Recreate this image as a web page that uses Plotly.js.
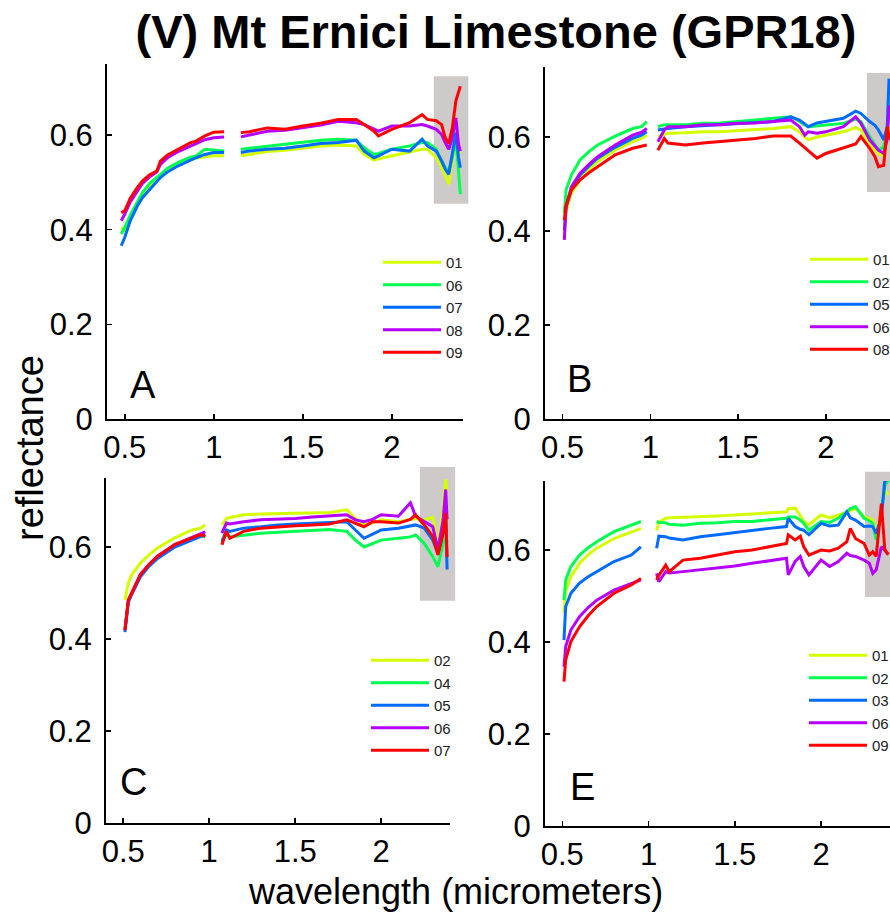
<!DOCTYPE html>
<html>
<head>
<meta charset="utf-8">
<script src="https://cdn.plot.ly/plotly-3.0.1.min.js"></script>
<style>
html,body{margin:0;padding:0;overflow:hidden;background:#fff;}
#chart{width:900px;height:912px;}
</style>
</head>
<body>
<div id="chart"></div>
<script>
// ---------- DATA ----------
// null marks the detector gap near 1 micrometer
const WL_A = [0.48,0.5,0.53,0.57,0.6,0.64,0.68,0.7,0.74,0.8,0.87,0.9,0.95,1.0,1.058,1.1,1.152,1.2,1.3,1.4,1.5,1.6,1.7,1.8,1.845,1.9,1.925,2.0,2.1,2.17,2.2,2.25,2.28,2.3,2.32,2.34,2.36,2.375,2.385];
const A_01 = [0.405,0.398,0.425,0.455,0.472,0.49,0.505,0.514,0.526,0.538,0.548,0.551,0.554,0.556,0.556,null,0.556,0.559,0.565,0.568,0.572,0.577,0.579,0.577,0.559,0.547,0.55,0.556,0.563,0.57,0.57,0.552,0.531,0.514,0.496,0.545,0.58,0.57,0.56];
const A_06 = [0.391,0.405,0.43,0.458,0.479,0.498,0.512,0.517,0.53,0.542,0.553,0.556,0.57,0.568,0.566,null,0.57,0.572,0.577,0.58,0.584,0.589,0.591,0.589,0.573,0.559,0.561,0.57,0.577,0.584,0.584,0.57,0.545,0.531,0.524,0.552,0.594,0.52,0.475];
const A_07 = [0.366,0.384,0.418,0.45,0.468,0.486,0.502,0.51,0.522,0.535,0.548,0.552,0.559,0.563,0.563,null,0.563,0.566,0.57,0.572,0.577,0.582,0.584,0.589,0.566,0.552,0.556,0.57,0.566,0.591,0.577,0.566,0.545,0.528,0.517,0.566,0.605,0.552,0.531];
const A_08 = [0.419,0.433,0.458,0.482,0.498,0.512,0.522,0.538,0.552,0.565,0.578,0.582,0.59,0.594,0.596,null,0.596,0.6,0.608,0.61,0.615,0.621,0.629,0.626,0.622,0.612,0.608,0.619,0.619,0.622,0.619,0.612,0.601,0.584,0.57,0.594,0.636,0.58,0.566];
const A_09 = [0.436,0.44,0.466,0.489,0.503,0.516,0.524,0.545,0.558,0.57,0.584,0.587,0.598,0.606,0.607,null,0.605,0.607,0.615,0.612,0.619,0.625,0.633,0.633,0.622,0.608,0.598,0.612,0.626,0.643,0.633,0.63,0.622,0.594,0.582,0.615,0.672,0.69,0.703];
const NAMES_A = ['01','06','07','08','09'];

const WL_B = [0.51,0.52,0.55,0.6,0.65,0.7,0.8,0.9,0.95,0.98,1.01,1.043,1.08,1.1,1.2,1.3,1.4,1.5,1.6,1.7,1.8,1.85,1.88,1.9,1.95,2.0,2.1,2.17,2.2,2.25,2.28,2.3,2.33,2.35,2.36,2.38];
const B_01 = [0.381,0.44,0.48,0.509,0.53,0.548,0.572,0.59,0.597,0.604,null,0.601,0.606,0.608,0.609,0.611,0.611,0.613,0.616,0.618,0.622,0.611,0.6,0.594,0.6,0.604,0.611,0.62,0.615,0.583,0.572,0.565,0.558,0.594,0.622,0.63];
const B_02 = [0.437,0.487,0.519,0.551,0.569,0.583,0.602,0.618,0.622,0.633,null,0.622,0.626,0.626,0.626,0.629,0.63,0.633,0.636,0.64,0.643,0.633,0.625,0.622,0.624,0.626,0.629,0.638,0.633,0.601,0.585,0.572,0.579,0.622,0.7,0.68];
const B_05 = [0.402,0.45,0.487,0.519,0.538,0.555,0.578,0.597,0.604,0.611,null,0.615,0.616,0.618,0.622,0.624,0.626,0.629,0.63,0.633,0.643,0.636,0.628,0.622,0.63,0.633,0.64,0.655,0.65,0.633,0.625,0.615,0.594,0.622,0.721,0.72];
const B_06 = [0.381,0.452,0.494,0.523,0.542,0.558,0.583,0.604,0.61,0.618,null,0.59,0.615,0.622,0.622,0.626,0.626,0.629,0.63,0.633,0.636,0.622,0.604,0.611,0.608,0.611,0.622,0.643,0.629,0.594,0.58,0.572,0.565,0.594,0.665,0.66];
const B_08 = [0.423,0.455,0.487,0.509,0.524,0.537,0.562,0.576,0.58,0.583,null,0.572,0.597,0.587,0.583,0.587,0.59,0.594,0.597,0.602,0.602,0.587,0.578,0.572,0.555,0.565,0.576,0.585,0.601,0.576,0.558,0.537,0.54,0.622,0.6,0.59];
const NAMES_B = ['01','02','05','06','08'];

const WL_C = [0.51,0.53,0.55,0.6,0.65,0.7,0.8,0.9,0.95,0.977,1.02,1.074,1.1,1.12,1.2,1.3,1.4,1.5,1.6,1.7,1.8,1.85,1.9,1.95,2.0,2.1,2.17,2.2,2.25,2.3,2.33,2.36,2.375,2.383];
const C_02 = [0.485,0.522,0.54,0.565,0.583,0.598,0.62,0.637,0.641,0.648,null,0.648,0.662,0.664,0.67,0.672,0.673,0.673,0.675,0.675,0.681,0.662,0.648,0.652,0.659,0.655,0.66,0.662,0.659,0.665,0.602,0.681,0.747,0.72];
const C_04 = [0.419,0.483,0.499,0.538,0.562,0.578,0.603,0.618,0.625,0.622,null,0.615,0.626,0.622,0.626,0.63,0.632,0.634,0.636,0.638,0.634,0.615,0.6,0.608,0.615,0.619,0.622,0.626,0.608,0.579,0.557,0.608,0.62,0.61];
const C_05 = [0.415,0.48,0.497,0.535,0.558,0.575,0.6,0.616,0.624,0.627,null,0.611,0.637,0.634,0.641,0.644,0.648,0.65,0.652,0.653,0.655,0.637,0.619,0.628,0.637,0.641,0.645,0.648,0.641,0.615,0.586,0.63,0.681,0.551];
const C_06 = [0.42,0.485,0.5,0.54,0.562,0.58,0.605,0.621,0.629,0.633,null,0.63,0.652,0.65,0.655,0.659,0.66,0.662,0.665,0.667,0.67,0.659,0.655,0.66,0.67,0.667,0.696,0.667,0.655,0.644,0.594,0.659,0.725,0.66];
const C_07 = [0.419,0.485,0.5,0.54,0.562,0.58,0.605,0.62,0.627,0.623,null,0.605,0.634,0.619,0.634,0.641,0.644,0.646,0.648,0.65,0.659,0.652,0.644,0.655,0.655,0.652,0.66,0.67,0.648,0.623,0.583,0.63,0.674,0.578];
const NAMES_C = ['02','04','05','06','07'];

const WL_E = [0.51,0.52,0.55,0.6,0.65,0.7,0.8,0.9,0.956,1.0,1.047,1.06,1.1,1.12,1.2,1.3,1.4,1.5,1.6,1.7,1.8,1.81,1.85,1.88,1.9,1.93,2.0,2.05,2.1,2.15,2.17,2.2,2.25,2.28,2.3,2.32,2.35,2.37,2.39];
const E_01 = [0.462,0.51,0.542,0.571,0.59,0.604,0.625,0.64,0.647,null,0.643,0.66,0.669,0.67,0.671,0.672,0.674,0.676,0.678,0.681,0.683,0.69,0.691,0.675,0.662,0.655,0.676,0.67,0.676,0.683,0.685,0.691,0.672,0.668,0.665,0.629,0.687,0.73,0.72];
const E_02 = [0.491,0.535,0.564,0.589,0.605,0.618,0.64,0.654,0.662,null,0.662,0.66,0.659,0.656,0.654,0.658,0.659,0.662,0.662,0.665,0.669,0.672,0.672,0.665,0.658,0.643,0.662,0.66,0.669,0.683,0.69,0.694,0.669,0.663,0.658,0.622,0.68,0.74,0.752];
const E_03 = [0.404,0.477,0.506,0.528,0.542,0.553,0.575,0.589,0.607,null,0.604,0.63,0.629,0.626,0.622,0.629,0.633,0.638,0.643,0.647,0.651,0.669,0.651,0.645,0.643,0.633,0.658,0.652,0.654,0.683,0.67,0.665,0.651,0.652,0.651,0.636,0.672,0.752,0.752];
const E_06 = [0.346,0.39,0.426,0.455,0.475,0.491,0.513,0.528,0.535,null,0.549,0.531,0.553,0.55,0.553,0.557,0.56,0.565,0.571,0.577,0.582,0.546,0.575,0.586,0.564,0.546,0.578,0.564,0.575,0.593,0.588,0.586,0.578,0.571,0.549,0.557,0.607,0.6,0.59];
const E_09 = [0.314,0.361,0.401,0.433,0.457,0.477,0.506,0.524,0.538,null,0.535,0.545,0.567,0.553,0.578,0.582,0.589,0.596,0.6,0.607,0.614,0.633,0.622,0.63,0.607,0.589,0.6,0.598,0.604,0.618,0.647,0.625,0.614,0.589,0.596,0.586,0.701,0.6,0.59];
const NAMES_E = ['01','02','03','06','09'];

// shaded bands (wavelength / reflectance limits) per panel A, B, C, E
const BAND_X0 = [2.236, 2.234, 2.225, 2.255];
const BAND_X1 = [2.43, 2.46, 2.43, 2.46];
const BAND_Y0 = [0.455, 0.483, 0.483, 0.498];
const BAND_Y1 = [0.724, 0.736, 0.774, 0.77];

const PANEL_LETTERS = ['A','B','C','E'];
const X_TICKS = [0.5, 1, 1.5, 2];
const X_TICKTEXT = ['0.5','1','1.5','2'];
const Y_TICKS = [0, 0.2, 0.4, 0.6];
const Y_TICKTEXT = ['0','0.2','0.4','0.6'];

// ---------- STYLE ----------
const COLORS = ['rgb(212,255,0)','rgb(0,255,80)','rgb(0,108,255)','rgb(182,0,255)','rgb(255,0,0)'];
const FONT = 'Liberation Sans, Arial, Helvetica, sans-serif';
const W = 900, H = 912;
const XR = [0.4, 2.4], YR = [0, 0.75];

const panels = [
  {wl: WL_A, ys: [A_01,A_06,A_07,A_08,A_09], names: NAMES_A, xa:'x',  ya:'y',  lg:'legend'},
  {wl: WL_B, ys: [B_01,B_02,B_05,B_06,B_08], names: NAMES_B, xa:'x2', ya:'y2', lg:'legend2'},
  {wl: WL_C, ys: [C_02,C_04,C_05,C_06,C_07], names: NAMES_C, xa:'x3', ya:'y3', lg:'legend3'},
  {wl: WL_E, ys: [E_01,E_02,E_03,E_06,E_09], names: NAMES_E, xa:'x4', ya:'y4', lg:'legend4'}
];

const traces = [];
panels.forEach(p => {
  p.ys.forEach((y, i) => {
    traces.push({
      type: 'scatter', mode: 'lines',
      x: p.wl, y: y, name: p.names[i],
      xaxis: p.xa, yaxis: p.ya, legend: p.lg,
      line: {color: COLORS[i], width: 3},
      connectgaps: false, hoverinfo: 'skip'
    });
  });
});

// pixel boxes of the plot areas
const boxes = [
  {x0:107, x1:463, yb:419, yt:64},
  {x0:545, x1:896, yb:419, yt:66.5},
  {x0:106, x1:450, yb:823, yt:478},
  {x0:545, x1:890, yb:826, yt:481}
];

function axX(i){
  const b = boxes[i];
  return {domain:[b.x0/W, b.x1/W], range: XR, anchor: 'y'+(i? i+1:''), showgrid:false, zeroline:false,
    showline:true, linecolor:'#000', linewidth:2, ticks:'inside', ticklen:5, tickwidth:1.5, tickcolor:'#000',
    tickvals: X_TICKS, ticktext: X_TICKTEXT, ticklabelstandoff: 0,
    tickfont:{family:FONT, size:31, color:'#000'}, fixedrange:true};
}
function axY(i){
  const b = boxes[i];
  return {domain:[1-b.yb/H, 1-b.yt/H], range: YR, anchor: 'x'+(i? i+1:''), showgrid:false, zeroline:false,
    showline:true, linecolor:'#000', linewidth:2, ticks:'inside', ticklen:5, tickwidth:1.5, tickcolor:'#000',
    tickvals: Y_TICKS, ticktext: Y_TICKTEXT, ticklabelstandoff: 6,
    tickfont:{family:FONT, size:31, color:'#000'}, fixedrange:true};
}

const shapes = [];
for (let i=0;i<4;i++){
  const xa = 'x'+(i?i+1:''), ya = 'y'+(i?i+1:'');
  shapes.push({type:'rect', layer:'below', xref: xa+' domain', yref: ya+' domain',
    x0:(BAND_X0[i]-XR[0])/(XR[1]-XR[0]), x1:(BAND_X1[i]-XR[0])/(XR[1]-XR[0]),
    y0:(BAND_Y0[i]-YR[0])/(YR[1]-YR[0]), y1:(BAND_Y1[i]-YR[0])/(YR[1]-YR[0]),
    fillcolor:'rgb(206,202,202)', line:{width:0}});
}

const letterPos = [[128,385],[565,379],[118,782],[568,787]];
const annotations = PANEL_LETTERS.map((t,i) => ({
  text:t, xref:'paper', yref:'paper', x: letterPos[i][0]/W, y: 1-letterPos[i][1]/H,
  xanchor:'left', yanchor:'middle', showarrow:false, font:{family:FONT, size:38, color:'#000'}
}));
annotations.push({text:'reflectance', xref:'paper', yref:'paper', x:30/W, y:1-448/H, textangle:-90,
  xanchor:'center', yanchor:'middle', showarrow:false, font:{family:FONT, size:38, color:'#000'}});
annotations.push({text:'wavelength (micrometers)', xref:'paper', yref:'paper', x:455/W, y:1-891/H,
  xanchor:'center', yanchor:'middle', showarrow:false, font:{family:FONT, size:36, color:'#000'}});

const legPos = [[378,246],[805,243],[366,644],[804,639]];
function leg(i){
  return {x: legPos[i][0]/W, y: 1-legPos[i][1]/H, xanchor:'left', yanchor:'top', bgcolor:'rgba(0,0,0,0)',
    borderwidth:0, itemwidth:58, font:{family:FONT, size:15, color:'#222'}, itemclick:false, itemdoubleclick:false};
}

const layout = {
  width: W, height: H, margin:{l:0,r:0,t:0,b:0, autoexpand:false},
  paper_bgcolor:'#fff', plot_bgcolor:'rgba(0,0,0,0)', showlegend:true,
  title:{text:'<b>(V) Mt Ernici Limestone (GPR18)</b>', x:496/W, xanchor:'center', y:1-32/H, yanchor:'middle',
    font:{family:FONT, size:47, color:'#000'}},
  xaxis: axX(0), yaxis: axY(0), xaxis2: axX(1), yaxis2: axY(1),
  xaxis3: axX(2), yaxis3: axY(2), xaxis4: axX(3), yaxis4: axY(3),
  legend: leg(0), legend2: leg(1), legend3: leg(2), legend4: leg(3),
  shapes: shapes, annotations: annotations
};

Plotly.newPlot('chart', traces, layout, {displayModeBar:false, staticPlot:true});
</script>
</body>
</html>
